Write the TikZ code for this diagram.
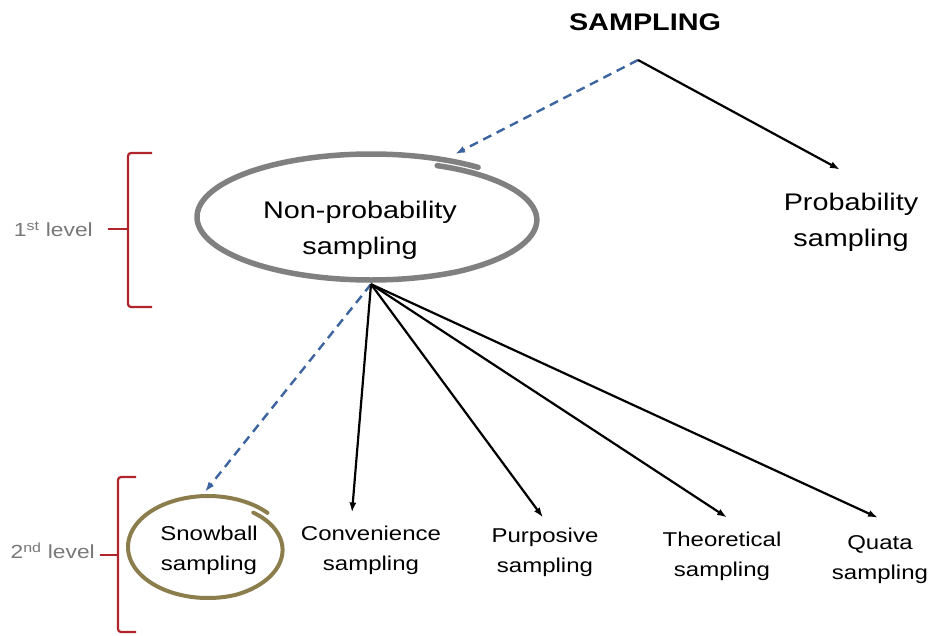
\documentclass[tikz,border=0pt]{standalone}
\usepackage{fontspec}
\setmainfont[FakeStretch=1.2]{Liberation Sans}
\usepackage{xcolor}
\usepackage{tikz}
\usetikzlibrary{arrows.meta}
\usetikzlibrary{shapes.geometric}
\usetikzlibrary{positioning}
\definecolor{ringgray}{RGB}{128,128,128}
\definecolor{ringolive}{RGB}{140,126,76}
\definecolor{hintblue}{RGB}{60,100,160}
\definecolor{bracketred}{RGB}{176,36,44}
\definecolor{levelgray}{RGB}{120,120,120}
\tikzstyle{bigtext}=[shape=rectangle, inner sep=2pt, align=center, font=\fontsize{24}{36}\selectfont]
\tikzstyle{leaftext}=[shape=rectangle, inner sep=2pt, align=center, font=\fontsize{20}{30}\selectfont]
\tikzstyle{leveltext}=[shape=rectangle, inner sep=2pt, anchor=east, text=levelgray, font=\fontsize{19}{24}\selectfont]
\tikzstyle{ringnode}=[shape=ellipse, draw=none, inner sep=0pt]
\tikzstyle{treearrow}=[-{Latex[length=10pt, width=7pt]}, line width=2.2pt, color=black]
\tikzstyle{hintarrow}=[-{Latex[length=10pt, width=7pt]}, line width=2.4pt, dash pattern=on 9pt off 6pt, color=hintblue]
\tikzstyle{bracket}=[line width=2.2pt, color=bracketred, rounded corners=3pt]

\begin{document}
\begin{tikzpicture}[x=1pt, y=-1pt]
\useasboundingbox (0,0) rectangle (931,635);

\node [bigtext, font=\fontsize{24}{36}\selectfont\bfseries] (title) at (645, 22) {SAMPLING};
\coordinate (root) at (638, 60);

% first level
\node [ringnode, minimum width=348pt, minimum height=126pt] (npring) at (371, 217) {};
\node [bigtext] (nptext) at (360, 230) {Non-probability\\sampling};
\node [bigtext] (prob) at (851, 222) {Probability\\sampling};
\coordinate (hub) at ([yshift=-4pt]npring.south);

% second level
\node [ringnode, minimum width=160pt, minimum height=102pt] (snowring) at (208, 547) {};
\node [leaftext] (snow) at (209, 550) {Snowball\\sampling};
\node [leaftext] (conv) at (371, 550) {Convenience\\sampling};
\node [leaftext] (purp) at (545, 552) {Purposive\\sampling};
\node [leaftext] (theo) at (722, 556) {Theoretical\\sampling};
\node [leaftext] (quata) at (880, 560) {Quata\\sampling};

% hand drawn loops
\draw[line width=5.5pt, color=ringgray, line cap=round, shift={(npring.center)}] plot[domain=52:425, samples=160, smooth] ({174*(1-0.1*max(0,(\x-300)/125))*cos(\x)}, {-63*(1-0.1*max(0,(\x-300)/125))*sin(\x)});
\draw[line width=4pt, color=ringolive, line cap=round, shift={(snowring.center)}] plot[domain=42:410, samples=160, smooth] ({80*(1-0.12*max(0,(\x-290)/120))*cos(\x)}, {-51*(1-0.12*max(0,(\x-290)/120))*sin(\x)});

\draw[hintarrow] (root) -- ([shift={(15pt,5pt)}]npring.40);
\draw[treearrow] (root) -- ([shift={(-11pt,21pt)}]prob.north);
\draw[hintarrow] (hub) -- ([shift={(-3pt,4pt)}]snowring.north);
\draw[treearrow] (hub) -- ([shift={(-19pt,11pt)}]conv.north);
\draw[treearrow] (hub) -- ([shift={(-2pt,8pt)}]purp.north);
\draw[treearrow] (hub) -- ([shift={(5pt,12pt)}]theo.north);
\draw[treearrow] (hub) -- ([shift={(-2pt,16pt)}]quata.north);

% level brackets
\draw[bracket] (152, 153) -- (128, 153) -- (128, 307) -- (152, 307);
\draw[bracket] (108, 229) -- (128, 229);
\node [leveltext] (lvlone) at (95, 229) {1\textsuperscript{st} level};
\draw[bracket] (136, 477) -- (118, 477) -- (118, 632) -- (136, 632);
\draw[bracket] (100, 555) -- (118, 555);
\node [leveltext] (lvltwo) at (97, 551) {2\textsuperscript{nd} level};
\end{tikzpicture}
\end{document}
